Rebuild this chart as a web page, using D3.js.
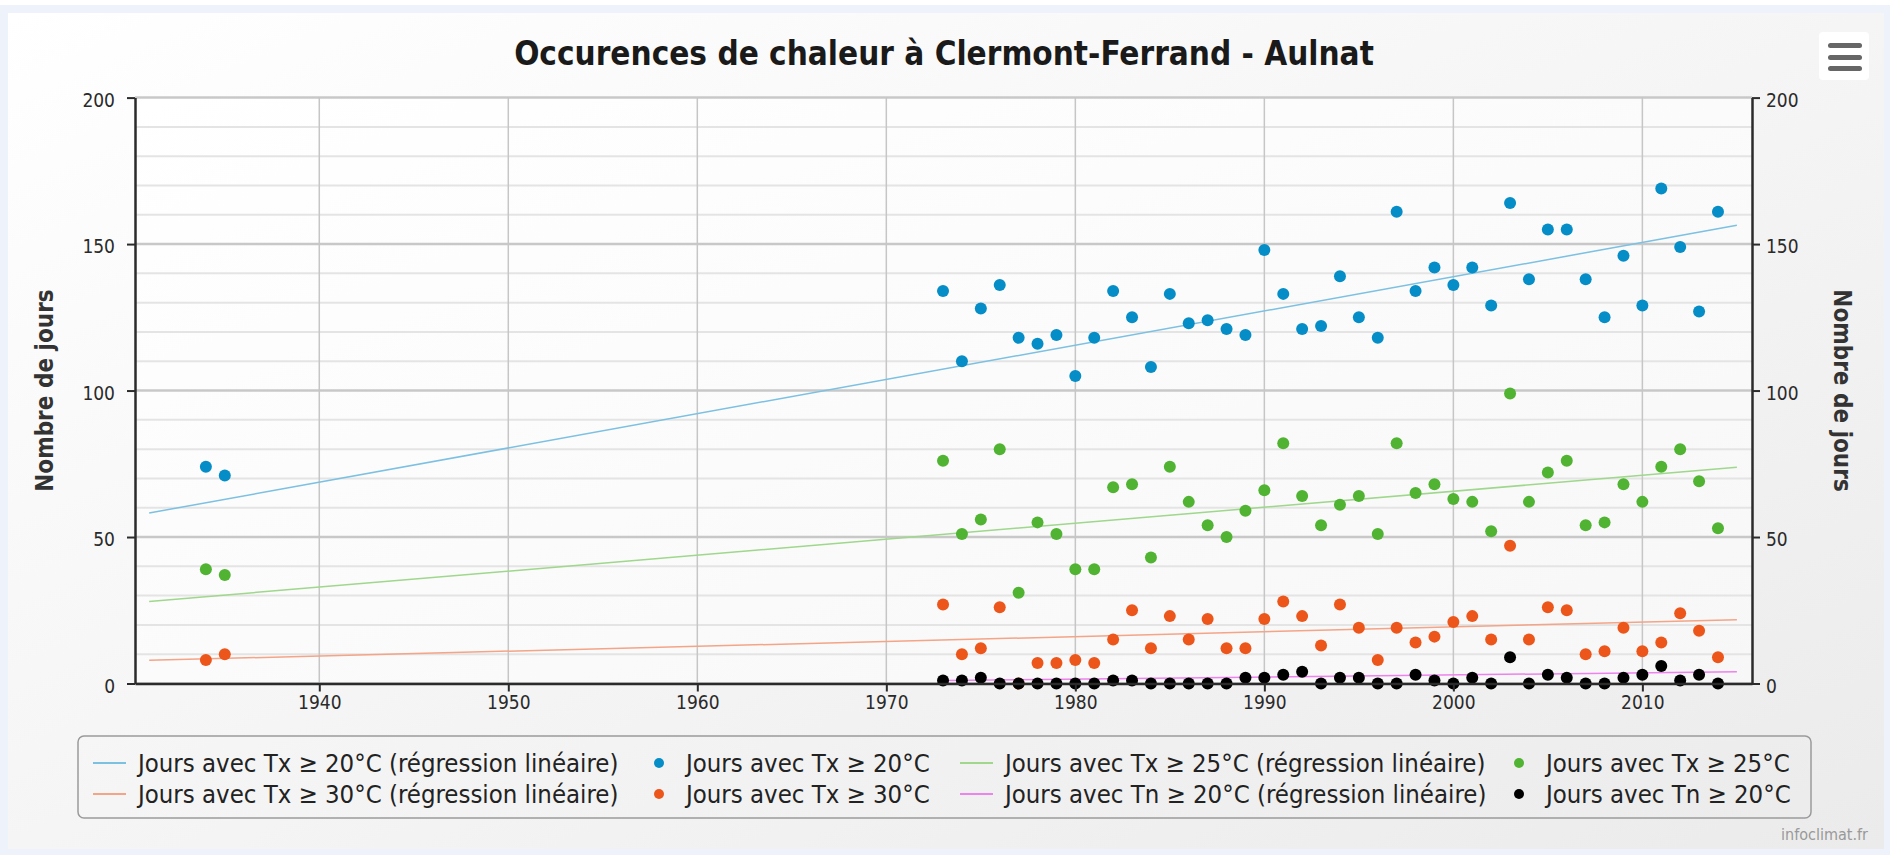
<!DOCTYPE html>
<html lang="fr">
<head>
<meta charset="utf-8">
<title>Occurences de chaleur à Clermont-Ferrand - Aulnat</title>
<script src="https://cdn.jsdelivr.net/npm/d3@7"></script>
<style>
  html, body { margin: 0; padding: 0; background: #fff; }
  svg { display: block; }
  text { font-family: "DejaVu Sans Condensed", "DejaVu Sans", sans-serif; }
</style>
</head>
<body>
<svg id="chart" width="1890" height="855"></svg>
<script>
// années avec des relevés
const years = [1934, 1935,
  1973, 1974, 1975, 1976, 1977, 1978, 1979, 1980, 1981, 1982,
  1983, 1984, 1985, 1986, 1987, 1988, 1989, 1990, 1991, 1992,
  1993, 1994, 1995, 1996, 1997, 1998, 1999, 2000, 2001, 2002,
  2003, 2004, 2005, 2006, 2007, 2008, 2009, 2010, 2011, 2012,
  2013, 2014];

const tx20 = [74, 71,
  134, 110, 128, 136, 118, 116, 119, 105, 118, 134,
  125, 108, 133, 123, 124, 121, 119, 148, 133, 121,
  122, 139, 125, 118, 161, 134, 142, 136, 142, 129,
  164, 138, 155, 155, 138, 125, 146, 129, 169, 149,
  127, 161];

const tx25 = [39, 37,
  76, 51, 56, 80, 31, 55, 51, 39, 39, 67,
  68, 43, 74, 62, 54, 50, 59, 66, 82, 64,
  54, 61, 64, 51, 82, 65, 68, 63, 62, 52,
  99, 62, 72, 76, 54, 55, 68, 62, 74, 80,
  69, 53];

const tx30 = [8, 10,
  27, 10, 12, 26, 0, 7, 7, 8, 7, 15,
  25, 12, 23, 15, 22, 12, 12, 22, 28, 23,
  13, 27, 19, 8, 19, 14, 16, 21, 23, 15,
  47, 15, 26, 25, 10, 11, 19, 11, 14, 24,
  18, 9];

const tn20 = [null, null,
  1, 1, 2, 0, 0, 0, 0, 0, 0, 1,
  1, 0, 0, 0, 0, 0, 2, 2, 3, 4,
  0, 2, 2, 0, 0, 3, 1, 0, 2, 0,
  9, 0, 3, 2, 0, 0, 2, 3, 6, 1,
  3, 0];

// droites de régression : [année début, année fin] et [valeur début, valeur fin]
const trendYears = [1931, 2015];
const tnTrendYears = [1973, 2015];
const tx20Trend = [58.2, 156.4];
const tx25Trend = [28.0, 73.8];
const tx30Trend = [7.9, 21.8];
const tn20Trend = [1.0, 4.0];

const xTicks = [1940, 1950, 1960, 1970, 1980, 1990, 2000, 2010];
const yTicks = [0, 50, 100, 150, 200];

const series = [
  { name: "Jours avec Tx ≥ 20°C (régression linéaire)", type: "line", color: "#7cc0e2", xs: trendYears, values: tx20Trend },
  { name: "Jours avec Tx ≥ 20°C", type: "scatter", color: "#058DC7", values: tx20 },
  { name: "Jours avec Tx ≥ 25°C (régression linéaire)", type: "line", color: "#9fd78c", xs: trendYears, values: tx25Trend },
  { name: "Jours avec Tx ≥ 25°C", type: "scatter", color: "#50B432", values: tx25 },
  { name: "Jours avec Tx ≥ 30°C (régression linéaire)", type: "line", color: "#f4a487", xs: trendYears, values: tx30Trend },
  { name: "Jours avec Tx ≥ 30°C", type: "scatter", color: "#ED561B", values: tx30 },
  { name: "Jours avec Tn ≥ 20°C (régression linéaire)", type: "line", color: "#ee82ee", xs: tnTrendYears, values: tn20Trend },
  { name: "Jours avec Tn ≥ 20°C", type: "scatter", color: "#000000", values: tn20 }
];

const width = 1890, height = 855;
const margin = { top: 97.6, right: 138, bottom: 171.5, left: 135 };

const svg = d3.select("#chart");

const defs = svg.append("defs");
const bgGrad = defs.append("linearGradient").attr("id", "bgGrad")
  .attr("x1", 0).attr("y1", 0).attr("x2", 1).attr("y2", 1);
bgGrad.append("stop").attr("offset", "0%").attr("stop-color", "#ffffff");
bgGrad.append("stop").attr("offset", "100%").attr("stop-color", "#ebebeb");
const plotGrad = defs.append("linearGradient").attr("id", "plotGrad")
  .attr("x1", 0).attr("y1", 0).attr("x2", 1).attr("y2", 1);
plotGrad.append("stop").attr("offset", "0%").attr("stop-color", "#ffffff");
plotGrad.append("stop").attr("offset", "100%").attr("stop-color", "#f7f7f7");

// fond de page et du graphique
svg.append("rect").attr("width", width).attr("height", height).attr("fill", "#eef3fb");
svg.append("rect").attr("width", width).attr("height", 5).attr("fill", "#ffffff");
svg.append("rect")
  .attr("x", 8).attr("y", 13).attr("width", width - 14).attr("height", 836)
  .attr("fill", "url(#bgGrad)");

const x = d3.scaleLinear().domain([1930.25, 2015.8]).range([margin.left, width - margin.right]);
const y = d3.scaleLinear().domain([0, 200]).range([height - margin.bottom, margin.top]);

svg.append("rect")
  .attr("x", margin.left).attr("y", margin.top)
  .attr("width", x.range()[1] - x.range()[0])
  .attr("height", y.range()[0] - y.range()[1])
  .attr("fill", "url(#plotGrad)");

// grille horizontale (mineure tous les 10, majeure tous les 50)
svg.append("g").selectAll("line")
  .data(d3.range(0, 201, 10))
  .enter().append("line")
  .attr("x1", x.range()[0]).attr("x2", x.range()[1])
  .attr("y1", d => y(d)).attr("y2", d => y(d))
  .attr("stroke", d => d % 50 === 0 ? "#c8c8c8" : "#e4e4e4")
  .attr("stroke-width", d => d % 50 === 0 ? 2.5 : 2);

// grille verticale
svg.append("g").selectAll("line")
  .data(xTicks)
  .enter().append("line")
  .attr("x1", d => x(d)).attr("x2", d => x(d))
  .attr("y1", y(0)).attr("y2", y(200))
  .attr("stroke", "#c6c6c6")
  .attr("stroke-width", 1.5);

// séries
series.forEach(s => {
  if (s.type === "line") {
    svg.append("line")
      .attr("x1", x(s.xs[0])).attr("y1", y(s.values[0]))
      .attr("x2", x(s.xs[1])).attr("y2", y(s.values[1]))
      .attr("stroke", s.color)
      .attr("stroke-width", 1.5);
  } else {
    const pts = years.map((yr, i) => ({ year: yr, value: s.values[i] }))
                     .filter(d => d.value !== null);
    svg.append("g").selectAll("circle")
      .data(pts).enter()
      .append("circle")
      .attr("cx", d => x(d.year))
      .attr("cy", d => y(d.value))
      .attr("r", 6)
      .attr("fill", s.color);
  }
});

// axes
const axisColor = "#2b2b2b";

const xAxis = svg.append("g")
  .attr("transform", `translate(0,${y(0)})`)
  .call(d3.axisBottom(x).tickValues(xTicks).tickFormat(d3.format("d")).tickSize(8).tickSizeOuter(0).tickPadding(4));

const yAxisLeft = svg.append("g")
  .attr("transform", `translate(${x.range()[0]},0)`)
  .call(d3.axisLeft(y).tickValues(yTicks).tickSize(8).tickSizeOuter(0).tickPadding(12));

const yAxisRight = svg.append("g")
  .attr("transform", `translate(${x.range()[1]},0)`)
  .call(d3.axisRight(y).tickValues(yTicks).tickSize(8).tickSizeOuter(0).tickPadding(6));

[xAxis, yAxisLeft, yAxisRight].forEach(ax => {
  ax.select(".domain").attr("stroke", axisColor).attr("stroke-width", 2.5);
  ax.selectAll(".tick line").attr("stroke", axisColor).attr("stroke-width", 2);
  ax.selectAll(".tick text")
    .attr("fill", "#2a2a2a")
    .style("font-size", "19px")
    .style("font-family", "'DejaVu Sans Condensed', 'DejaVu Sans', sans-serif");
});
yAxisLeft.selectAll(".tick text").attr("dy", "0.45em");
yAxisRight.selectAll(".tick text").attr("dy", "0.45em");

// titres
svg.append("text")
  .attr("x", 944).attr("y", 65)
  .attr("text-anchor", "middle")
  .attr("fill", "#1a1a1a")
  .style("font-size", "33px").style("font-weight", "bold")
  .text("Occurences de chaleur à Clermont-Ferrand - Aulnat");

const midY = (y(0) + y(200)) / 2;
svg.append("text")
  .attr("transform", `translate(45,${midY}) rotate(-90)`)
  .attr("text-anchor", "middle").attr("dy", "0.35em")
  .attr("fill", "#333")
  .style("font-size", "24px").style("font-weight", "bold")
  .text("Nombre de jours");

svg.append("text")
  .attr("transform", `translate(1842,${midY}) rotate(90)`)
  .attr("text-anchor", "middle").attr("dy", "0.35em")
  .attr("fill", "#333")
  .style("font-size", "24px").style("font-weight", "bold")
  .text("Nombre de jours");

// légende
svg.append("rect")
  .attr("x", 78).attr("y", 736).attr("width", 1733).attr("height", 82)
  .attr("rx", 6)
  .attr("fill", "none")
  .attr("stroke", "#9a9a9a").attr("stroke-width", 1.5);

const legendCols = [93, 653, 960, 1513];
const legendRows = [763, 794];

const legend = svg.append("g").selectAll("g")
  .data(series).enter()
  .append("g")
  .attr("transform", (d, i) => `translate(${legendCols[i % 4]},${legendRows[Math.floor(i / 4)]})`);

legend.filter(d => d.type === "line").append("line")
  .attr("x1", 0).attr("x2", 33).attr("y1", 0).attr("y2", 0)
  .attr("stroke", d => d.color).attr("stroke-width", 2);

legend.filter(d => d.type === "scatter").append("circle")
  .attr("cx", 6).attr("cy", 0).attr("r", 5)
  .attr("fill", d => d.color);

legend.append("text")
  .attr("x", d => d.type === "line" ? 45 : 33)
  .attr("dy", "0.36em")
  .attr("fill", "#222")
  .style("font-size", "25.5px")
  .text(d => d.name);

// bouton menu
svg.append("rect")
  .attr("x", 1819).attr("y", 32).attr("width", 50).attr("height", 48)
  .attr("rx", 4).attr("fill", "#ffffff");
svg.append("g").selectAll("rect")
  .data([43, 55, 66]).enter()
  .append("rect")
  .attr("x", 1828).attr("y", d => d).attr("width", 34).attr("height", 5)
  .attr("rx", 2.5).attr("fill", "#666");

// crédits
svg.append("text")
  .attr("x", 1868).attr("y", 840)
  .attr("text-anchor", "end")
  .attr("fill", "#999")
  .style("font-size", "16px")
  .text("infoclimat.fr");
</script>
</body>
</html>
